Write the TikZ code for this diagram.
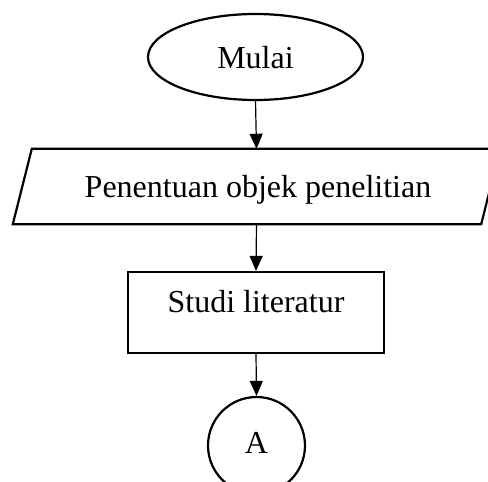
\documentclass[tikz,border=0pt]{standalone}
\usepackage{fontspec}
\setmainfont{Liberation Serif}
\usetikzlibrary{shapes.geometric,arrows.meta}
\begin{document}
\begin{tikzpicture}[x=1pt,y=-1pt,
  shapeline/.style={draw=black,line width=2.2pt},
  lbl/.style={inner sep=0pt,anchor=base,font=\fontsize{32}{38}\selectfont},
  flow/.style={draw=black,line width=1.2pt,-{Triangle[length=15pt,width=13pt]}}]
\useasboundingbox (0,0) rectangle (488,482);
% start
\node[shapeline,ellipse,minimum width=215pt,minimum height=86pt,inner sep=0pt] (start) at (255.5,57) {};
\node[lbl] (starttxt) at (255.5,68) {Mulai};
% parallelogram
\node[minimum width=487pt,minimum height=75pt,inner sep=0pt] (para) at (256.5,186.5) {};
\draw[shapeline,line join=miter] (para.south west) -- ([xshift=-19pt]para.south east) -- (para.north east) -- ([xshift=19pt]para.north west) -- cycle;
\node[lbl] (paratxt) at (258,197) {Penentuan objek penelitian};
% rectangle
\node[shapeline,rectangle,minimum width=256pt,minimum height=81pt,inner sep=0pt] (studi) at (256,312.5) {};
\node[lbl] (studitxt) at (256,312) {Studi literatur};
% connector
\node[shapeline,circle,minimum size=97pt,inner sep=0pt] (conA) at (256.5,445.5) {};
\node[lbl] (conAtxt) at (256.5,453) {A};
% arrows
\draw[flow] (start.south) -- (para.north);
\draw[flow] (para.south) -- (studi.north);
\draw[flow] (studi.south) -- (conA.north);
\end{tikzpicture}
\end{document}
